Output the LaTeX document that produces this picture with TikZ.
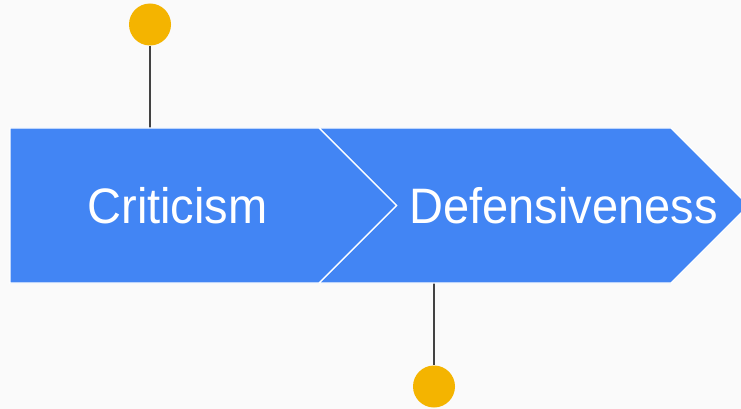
\documentclass[tikz,border=0pt]{standalone}
\usepackage{fontspec}
\setmainfont{Liberation Sans}
\definecolor{bg}{HTML}{FAFAFA}
\definecolor{gblue}{HTML}{4285F4}
\definecolor{gyellow}{HTML}{F4B400}
\definecolor{stem}{HTML}{424242}
\tikzset{
  band/.style={fill=gblue, draw=white, line width=1.2pt, line join=miter},
  dot/.style={circle, fill=gyellow, minimum size=42pt, inner sep=0pt},
  conn/.style={draw=stem, line width=2pt},
  label/.style={text=white, font=\fontsize{47}{56}\selectfont, anchor=base, inner sep=0pt, yscale=1.06}
}
\begin{document}
\begin{tikzpicture}[x=1pt, y=-1pt]
  \fill[bg] (0,0) rectangle (741,409);
  \useasboundingbox (0,0) rectangle (741,409);
  \clip (0,0) rectangle (741,409);
  \coordinate (t1) at (150,128);
  \coordinate (b2) at (434,283);
  \node[dot] (c1) at (150,24.5) {};
  \node[dot] (c2) at (434,386.5) {};
  \draw[conn] (c1.south) -- (t1);
  \draw[conn] (b2) -- (c2.north);
  \path[band] (319,128) -- (671,128) -- (748.5,205.5) -- (671,283) -- (319,283) -- (396.5,205.5) -- cycle;
  \path[band] (10,128) -- (319,128) -- (396.5,205.5) -- (319,283) -- (10,283) -- cycle;
  \node[label] (crit) at (177.5,223) {Criticism};
  \node[label] (def) at (563.5,223) {Defensiveness};
\end{tikzpicture}
\end{document}
